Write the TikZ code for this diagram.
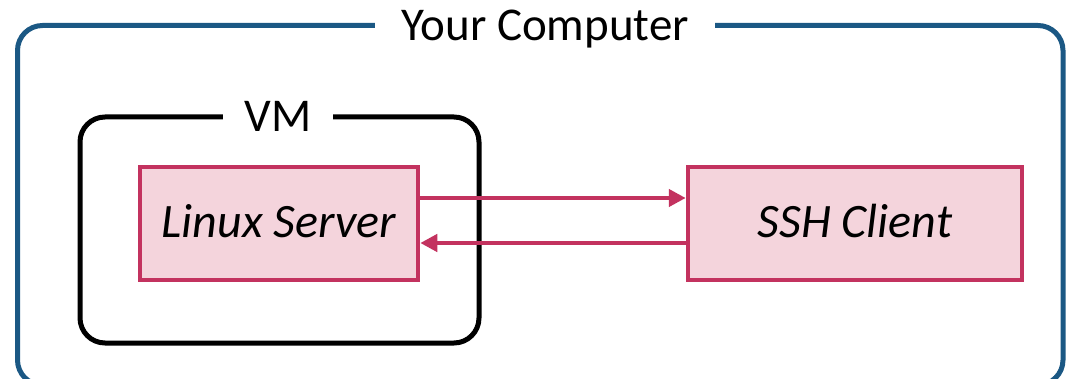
\documentclass[tikz,border=0pt]{standalone}
\usepackage{fontspec}
\setmainfont{Carlito}
\usetikzlibrary{arrows.meta}
\definecolor{frameblue}{HTML}{1B5884}
\definecolor{boxedge}{HTML}{C3325F}
\definecolor{boxfill}{HTML}{F4D4DC}
\tikzset{
  outerframe/.style={draw=frameblue, line width=5pt, rounded corners=25pt},
  vmframe/.style={draw=black, line width=5pt, rounded corners=25pt},
  framelabel/.style={fill=white, inner sep=0pt, text height=28pt, text depth=0pt,
    minimum height=40pt, font=\fontsize{47}{54}\selectfont},
  procbox/.style={draw=boxedge, fill=boxfill, line width=4.5pt, minimum height=113pt,
    inner sep=0pt, text height=29pt, text depth=0pt,
    font=\fontsize{48}{55}\selectfont\itshape},
  link/.style={draw=boxedge, line width=4.5pt, -{Triangle[length=17pt,width=17pt]}}
}
\begin{document}
\begin{tikzpicture}[x=1pt,y=-1pt]
  \useasboundingbox (0,0) rectangle (1068,379);
  % outer computer frame and its title
  \draw[outerframe] (17.5,25.5) rectangle (1063,385);
  \node[framelabel, minimum width=340pt] (comp) at (545,27) {Your Computer};
  % virtual machine frame and its title
  \draw[vmframe] (80,117) rectangle (479,343);
  \node[framelabel, minimum width=110pt] (vm) at (278,117.5) {VM};
  % the two processes
  \node[procbox, minimum width=278pt] (lin) at (279,223.5) {Linux Server};
  \node[procbox, minimum width=334pt] (ssh) at (855,223.5) {SSH Client};
  % request and reply
  \draw[link] ([yshift=25.5pt]lin.east) -- ([yshift=25.5pt]ssh.west);
  \draw[link] ([yshift=-19.5pt]ssh.west) -- ([yshift=-19.5pt]lin.east);
\end{tikzpicture}
\end{document}
